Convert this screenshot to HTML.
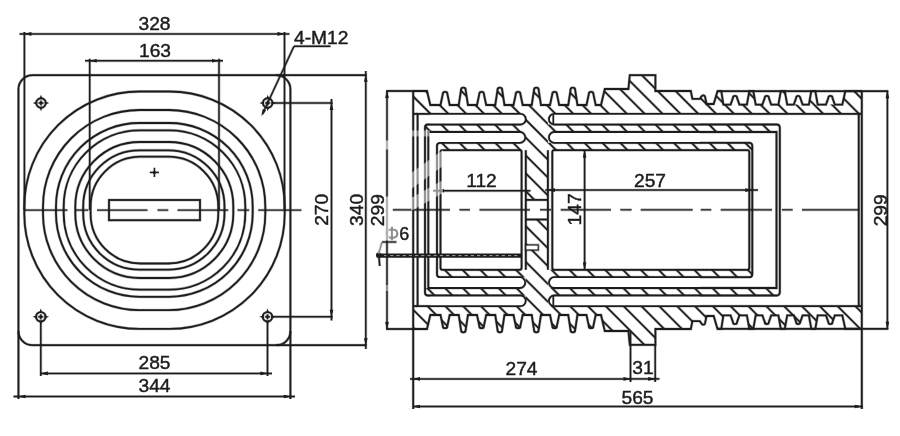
<!DOCTYPE html>
<html><head><meta charset="utf-8"><style>
html,body{margin:0;padding:0;background:#fff;}
svg{display:block;font-family:"Liberation Sans",sans-serif;will-change:transform;}
text{stroke:#1c1c1c;stroke-width:0.45px;}
.halo *{stroke-opacity:0.3;fill-opacity:0.3;}
.halo path,.halo line,.halo rect,.halo circle{stroke-width:2.9px;}
.halo text{display:none;}
</style></head><body>
<svg width="900" height="436" viewBox="0 0 900 436">
<rect width="900" height="436" fill="#fff"/>
<g class="halo">
<rect x="18.45" y="75.2" width="271.95" height="270.0" rx="14" fill="none" stroke="#1c1c1c" stroke-width="1.8"/>
<line x1="276.4" y1="75.2" x2="366.6" y2="75.2" stroke="#1c1c1c" stroke-width="1.8" />
<line x1="276.4" y1="345.2" x2="366.6" y2="345.2" stroke="#1c1c1c" stroke-width="1.8" />
<line x1="18.45" y1="331.2" x2="18.45" y2="399" stroke="#1c1c1c" stroke-width="1.8" />
<line x1="290.4" y1="331.2" x2="290.4" y2="399" stroke="#1c1c1c" stroke-width="1.8" />
<rect x="24.3" y="91.5" width="260.4" height="237.4" rx="115.1" ry="115.1" fill="none" stroke="#1c1c1c" stroke-width="1.8"/>
<rect x="43" y="110" width="222.3" height="200.1" rx="96.45" ry="96.45" fill="none" stroke="#1c1c1c" stroke-width="1.8"/>
<rect x="56" y="123" width="196.7" height="173.8" rx="83.3" ry="83.3" fill="none" stroke="#1c1c1c" stroke-width="1.8"/>
<rect x="63.7" y="130.28" width="181.6" height="159.4" rx="76.1" ry="76.1" fill="none" stroke="#1c1c1c" stroke-width="1.8"/>
<rect x="75.3" y="142" width="158" height="136" rx="64.4" ry="64.4" fill="none" stroke="#1c1c1c" stroke-width="1.8"/>
<rect x="83.2" y="150.3" width="141.3" height="119.4" rx="56.1" ry="56.1" fill="none" stroke="#1c1c1c" stroke-width="1.8"/>
<rect x="90.6" y="156.7" width="127.7" height="106.8" rx="49.8" ry="49.8" fill="none" stroke="#1c1c1c" stroke-width="1.8"/>
<rect x="109" y="200" width="91" height="20.2" fill="none" stroke="#1c1c1c" stroke-width="1.8"/>
<line x1="149.8" y1="172.4" x2="159" y2="172.4" stroke="#1c1c1c" stroke-width="1.1" />
<line x1="154.4" y1="167.8" x2="154.4" y2="177" stroke="#1c1c1c" stroke-width="1.1" />
<circle cx="154.4" cy="172.4" r="1.5" fill="#1c1c1c"/>
<circle cx="41" cy="103" r="4.7" fill="none" stroke="#1c1c1c" stroke-width="1.9"/>
<path d="M45,103 L45,104.4 L49.2,103 L45,101.6 Z" fill="#1c1c1c"/>
<path d="M37,103 L37,101.6 L32.8,103 L37,104.4 Z" fill="#1c1c1c"/>
<path d="M41,107 L39.6,107 L41,111.2 L42.4,107 Z" fill="#1c1c1c"/>
<path d="M41,99 L42.4,99 L41,94.8 L39.6,99 Z" fill="#1c1c1c"/>
<circle cx="41" cy="103" r="1.3" fill="#1c1c1c"/>
<line x1="38.4" y1="103" x2="43.6" y2="103" stroke="#1c1c1c" stroke-width="1.3" />
<line x1="41" y1="100.4" x2="41" y2="105.6" stroke="#1c1c1c" stroke-width="1.3" />
<circle cx="267.7" cy="103" r="4.7" fill="none" stroke="#1c1c1c" stroke-width="1.9"/>
<path d="M271.7,103 L271.7,104.4 L275.9,103 L271.7,101.6 Z" fill="#1c1c1c"/>
<path d="M263.7,103 L263.7,101.6 L259.5,103 L263.7,104.4 Z" fill="#1c1c1c"/>
<path d="M267.7,107 L266.3,107 L267.7,111.2 L269.1,107 Z" fill="#1c1c1c"/>
<path d="M267.7,99 L269.1,99 L267.7,94.8 L266.3,99 Z" fill="#1c1c1c"/>
<circle cx="267.7" cy="103" r="1.3" fill="#1c1c1c"/>
<line x1="265.1" y1="103" x2="270.3" y2="103" stroke="#1c1c1c" stroke-width="1.3" />
<line x1="267.7" y1="100.4" x2="267.7" y2="105.6" stroke="#1c1c1c" stroke-width="1.3" />
<circle cx="40.8" cy="316.8" r="4.7" fill="none" stroke="#1c1c1c" stroke-width="1.9"/>
<path d="M44.8,316.8 L44.8,318.2 L49,316.8 L44.8,315.4 Z" fill="#1c1c1c"/>
<path d="M36.8,316.8 L36.8,315.4 L32.6,316.8 L36.8,318.2 Z" fill="#1c1c1c"/>
<path d="M40.8,320.8 L39.4,320.8 L40.8,325 L42.2,320.8 Z" fill="#1c1c1c"/>
<path d="M40.8,312.8 L42.2,312.8 L40.8,308.6 L39.4,312.8 Z" fill="#1c1c1c"/>
<circle cx="40.8" cy="316.8" r="1.3" fill="#1c1c1c"/>
<line x1="38.2" y1="316.8" x2="43.4" y2="316.8" stroke="#1c1c1c" stroke-width="1.3" />
<line x1="40.8" y1="314.2" x2="40.8" y2="319.4" stroke="#1c1c1c" stroke-width="1.3" />
<circle cx="267.5" cy="316.8" r="4.7" fill="none" stroke="#1c1c1c" stroke-width="1.9"/>
<path d="M271.5,316.8 L271.5,318.2 L275.7,316.8 L271.5,315.4 Z" fill="#1c1c1c"/>
<path d="M263.5,316.8 L263.5,315.4 L259.3,316.8 L263.5,318.2 Z" fill="#1c1c1c"/>
<path d="M267.5,320.8 L266.1,320.8 L267.5,325 L268.9,320.8 Z" fill="#1c1c1c"/>
<path d="M267.5,312.8 L268.9,312.8 L267.5,308.6 L266.1,312.8 Z" fill="#1c1c1c"/>
<circle cx="267.5" cy="316.8" r="1.3" fill="#1c1c1c"/>
<line x1="264.9" y1="316.8" x2="270.1" y2="316.8" stroke="#1c1c1c" stroke-width="1.3" />
<line x1="267.5" y1="314.2" x2="267.5" y2="319.4" stroke="#1c1c1c" stroke-width="1.3" />
<line x1="24.2" y1="210.1" x2="67.5" y2="210.1" stroke="#1c1c1c" stroke-width="1.2" />
<line x1="75" y1="210.1" x2="88.3" y2="210.1" stroke="#1c1c1c" stroke-width="1.2" />
<line x1="97" y1="210.1" x2="147.5" y2="210.1" stroke="#1c1c1c" stroke-width="1.2" />
<line x1="157.5" y1="210.1" x2="168.3" y2="210.1" stroke="#1c1c1c" stroke-width="1.2" />
<line x1="177.5" y1="210.1" x2="228.3" y2="210.1" stroke="#1c1c1c" stroke-width="1.2" />
<line x1="237.5" y1="210.1" x2="249.2" y2="210.1" stroke="#1c1c1c" stroke-width="1.2" />
<line x1="258.3" y1="210.1" x2="301.4" y2="210.1" stroke="#1c1c1c" stroke-width="1.2" />
<line x1="19.5" y1="33.9" x2="289.5" y2="33.9" stroke="#1c1c1c" stroke-width="1.5" />
<line x1="24.4" y1="32" x2="24.4" y2="210" stroke="#1c1c1c" stroke-width="1.5" />
<line x1="284.5" y1="32" x2="284.5" y2="210" stroke="#1c1c1c" stroke-width="1.5" />
<path d="M24.4,33.9 L31.4,32.1 L31.4,35.7 Z" fill="#1c1c1c"/>
<path d="M284.5,33.9 L277.5,35.7 L277.5,32.1 Z" fill="#1c1c1c"/>
<text x="154.5" y="29.6" font-size="19.2" text-anchor="middle" fill="#1c1c1c" >328</text>
<line x1="85" y1="60.8" x2="223" y2="60.8" stroke="#1c1c1c" stroke-width="1.5" />
<line x1="89.7" y1="58.8" x2="89.7" y2="210" stroke="#1c1c1c" stroke-width="1.5" />
<line x1="219" y1="58.8" x2="219" y2="210" stroke="#1c1c1c" stroke-width="1.5" />
<path d="M89.7,60.8 L96.7,59 L96.7,62.6 Z" fill="#1c1c1c"/>
<path d="M219,60.8 L212,62.6 L212,59 Z" fill="#1c1c1c"/>
<text x="155" y="56.6" font-size="19.2" text-anchor="middle" fill="#1c1c1c" >163</text>
<text x="294" y="44.3" font-size="19.2" text-anchor="start" fill="#1c1c1c" >4-M12</text>
<line x1="294" y1="46.2" x2="330.5" y2="46.2" stroke="#1c1c1c" stroke-width="1.5" />
<line x1="294" y1="46.2" x2="262.5" y2="114" stroke="#1c1c1c" stroke-width="1.5" />
<path d="M261.5,116 L262.8,108.89 L266.07,110.4 Z" fill="#1c1c1c"/>
<line x1="272" y1="103" x2="332.6" y2="103" stroke="#1c1c1c" stroke-width="1.5" />
<line x1="272" y1="316.8" x2="332.6" y2="316.8" stroke="#1c1c1c" stroke-width="1.5" />
<line x1="331.5" y1="99" x2="331.5" y2="320.5" stroke="#1c1c1c" stroke-width="1.5" />
<path d="M331.5,103 L333.3,110 L329.7,110 Z" fill="#1c1c1c"/>
<path d="M331.5,316.8 L329.7,309.8 L333.3,309.8 Z" fill="#1c1c1c"/>
<text x="328.3" y="209.8" font-size="19.2" text-anchor="middle" fill="#1c1c1c" transform="rotate(-90 328.3 209.8)" >270</text>
<line x1="365.8" y1="71" x2="365.8" y2="349" stroke="#1c1c1c" stroke-width="1.5" />
<path d="M365.8,74.8 L367.6,81.8 L364,81.8 Z" fill="#1c1c1c"/>
<path d="M365.8,345.2 L364,338.2 L367.6,338.2 Z" fill="#1c1c1c"/>
<text x="362.8" y="209.9" font-size="19.2" text-anchor="middle" fill="#1c1c1c" transform="rotate(-90 362.8 209.9)" >340</text>
<line x1="40.8" y1="322" x2="40.8" y2="376" stroke="#1c1c1c" stroke-width="1.5" />
<line x1="267.5" y1="322" x2="267.5" y2="376" stroke="#1c1c1c" stroke-width="1.5" />
<line x1="40.8" y1="373.4" x2="272" y2="373.4" stroke="#1c1c1c" stroke-width="1.5" />
<path d="M40.8,373.4 L47.8,371.6 L47.8,375.2 Z" fill="#1c1c1c"/>
<path d="M267.5,373.4 L260.5,375.2 L260.5,371.6 Z" fill="#1c1c1c"/>
<text x="154.5" y="368.9" font-size="19.2" text-anchor="middle" fill="#1c1c1c" >285</text>
<line x1="13.5" y1="396.5" x2="295" y2="396.5" stroke="#1c1c1c" stroke-width="1.5" />
<path d="M18.4,396.5 L25.4,394.7 L25.4,398.3 Z" fill="#1c1c1c"/>
<path d="M290.8,396.5 L283.8,398.3 L283.8,394.7 Z" fill="#1c1c1c"/>
<text x="154.5" y="392.3" font-size="19.2" text-anchor="middle" fill="#1c1c1c" >344</text>
<clipPath id="hcT"><path d="M413,91 L427,91 L430.3,105 L458.75,105 L461.05,89.9 A2.3,2.3 0 0 1 465.65,89.9 L467.95,105 L495.25,105 L497.55,89.9 A2.3,2.3 0 0 1 502.15,89.9 L504.45,105 L531.75,105 L534.05,89.9 A2.3,2.3 0 0 1 538.65,89.9 L540.95,105 L568.25,105 L570.55,89.9 A2.3,2.3 0 0 1 575.15,89.9 L577.45,105 L601,105 L604.8,89 L628.4,89 L629.8,75.2 L655.4,75.2 L655.4,91 L690.8,91 L692.4,98.9 L699.8,98.9 L701.6,96.4 A1.8,1.8 0 0 1 705,96.6 L706.6,104 L713.7,104 L717.5,91.2 L721.3,91.2 L723.4,104.6 L746.9,104.6 L749.3,91.2 L753.3,91.2 L755.7,104.6 L778.4,104.6 L780.8,91.2 L784.8,91.2 L787.2,104.6 L808.9,104.6 L811.3,91.2 L815.3,91.2 L817.7,104.6 L842.3,104.6 L845.3,91.2 L861.8,91.2 L861.8,113.9 L413,113.9 Z"/><path d="M425,124.5 L779.8,124.5 L779.8,132 L425,132 Z"/><path d="M437,142.8 L752.3,142.8 L752.3,150.2 L437,150.2 Z"/><path d="M525.8,113.9 L547.9,113.9 L547.9,199.9 L525.8,199.9 Z"/></clipPath>
<path clip-path="url(#hcT)" d="M351.05,70 L482.05,201 M368.9,70 L499.9,201 M386.75,70 L517.75,201 M404.6,70 L535.6,201 M422.45,70 L553.45,201 M440.3,70 L571.3,201 M458.15,70 L589.15,201 M476,70 L607,201 M493.85,70 L624.85,201 M511.7,70 L642.7,201 M529.55,70 L660.55,201 M547.4,70 L678.4,201 M565.25,70 L696.25,201 M583.1,70 L714.1,201 M600.95,70 L731.95,201 M618.8,70 L749.8,201 M636.65,70 L767.65,201 M654.5,70 L785.5,201 M672.35,70 L803.35,201 M690.2,70 L821.2,201 M708.05,70 L839.05,201 M725.9,70 L856.9,201 M743.75,70 L874.75,201 M761.6,70 L892.6,201 M779.45,70 L910.45,201 M797.3,70 L928.3,201 M815.15,70 L946.15,201 M833,70 L964,201 " stroke="#1c1c1c" stroke-width="1.6" fill="none"/>
<clipPath id="hcB"><path d="M413,329 L427,329 L430.3,315 L440.5,315 L442.8,325.9 A2.3,2.3 0 0 0 447.4,325.9 L449.7,315 L458.75,315 L461.05,330.1 A2.3,2.3 0 0 0 465.65,330.1 L467.95,315 L477,315 L479.3,325.9 A2.3,2.3 0 0 0 483.9,325.9 L486.2,315 L495.25,315 L497.55,330.1 A2.3,2.3 0 0 0 502.15,330.1 L504.45,315 L513.5,315 L515.8,325.9 A2.3,2.3 0 0 0 520.4,325.9 L522.7,315 L531.75,315 L534.05,330.1 A2.3,2.3 0 0 0 538.65,330.1 L540.95,315 L550,315 L552.3,325.9 A2.3,2.3 0 0 0 556.9,325.9 L559.2,315 L568.25,315 L570.55,330.1 A2.3,2.3 0 0 0 575.15,330.1 L577.45,315 L586.5,315 L588.8,325.9 A2.3,2.3 0 0 0 593.4,325.9 L595.7,315 L601,315 L604.8,331 L628.4,331 L629.8,344.8 L655.4,344.8 L655.4,329 L690.8,329 L692.4,321.1 L699.8,321.1 L701.6,323.6 A1.8,1.8 0 0 0 705,323.4 L706.6,316 L713.7,316 L717.5,328.8 L721.3,328.8 L723.4,315.4 L730.6,315.4 L732.9,322 A2.1,2.1 0 0 0 737.1,322 L739.4,315.4 L746.9,315.4 L749.3,328.8 L753.3,328.8 L755.7,315.4 L762.4,315.4 L764.7,322 A2.1,2.1 0 0 0 768.9,322 L771.2,315.4 L778.4,315.4 L780.8,328.8 L784.8,328.8 L787.2,315.4 L793.8,315.4 L796.1,322 A2.1,2.1 0 0 0 800.3,322 L802.6,315.4 L808.9,315.4 L811.3,328.8 L815.3,328.8 L817.7,315.4 L826,315.4 L828.3,322 A2.1,2.1 0 0 0 832.5,322 L834.8,315.4 L842.3,315.4 L845.3,328.8 L861.8,328.8 L861.8,306.1 L413,306.1 Z"/><path d="M425,288 L779.8,288 L779.8,295.5 L425,295.5 Z"/><path d="M437,269.8 L752.3,269.8 L752.3,277.2 L437,277.2 Z"/><path d="M525.8,219.5 L547.9,219.5 L547.9,306.1 L525.8,306.1 Z"/></clipPath>
<path clip-path="url(#hcB)" d="M304.64,219 L435.64,350 M322.47,219 L453.47,350 M340.3,219 L471.3,350 M358.13,219 L489.13,350 M375.96,219 L506.96,350 M393.79,219 L524.79,350 M411.62,219 L542.62,350 M429.45,219 L560.45,350 M447.28,219 L578.28,350 M465.11,219 L596.11,350 M482.94,219 L613.94,350 M500.77,219 L631.77,350 M518.6,219 L649.6,350 M536.43,219 L667.43,350 M554.26,219 L685.26,350 M572.09,219 L703.09,350 M589.92,219 L720.92,350 M607.75,219 L738.75,350 M625.58,219 L756.58,350 M643.41,219 L774.41,350 M661.24,219 L792.24,350 M679.07,219 L810.07,350 M696.9,219 L827.9,350 M714.73,219 L845.73,350 M732.56,219 L863.56,350 M750.39,219 L881.39,350 M768.22,219 L899.22,350 M786.05,219 L917.05,350 " stroke="#1c1c1c" stroke-width="1.6" fill="none"/>
<g fill="#fff" stroke="none"><path d="M430,113.9 L520.4,113.9 A5.3,5.3 0 0 1 520.4,124.5 L430,124.5 Z"/><path d="M430,295.5 L520.4,295.5 A5.3,5.3 0 0 1 520.4,306.1 L430,306.1 Z"/><path d="M700,113.9 L554.3,113.9 A5.3,5.3 0 0 0 554.3,124.5 L700,124.5 Z"/><path d="M700,295.5 L554.3,295.5 A5.3,5.3 0 0 0 554.3,306.1 L700,306.1 Z"/><path d="M430,132 L519.8,132 A5.4,5.4 0 0 1 519.8,142.8 L430,142.8 Z"/><path d="M430,277.2 L519.8,277.2 A5.4,5.4 0 0 1 519.8,288 L430,288 Z"/><path d="M700,132 L554.4,132 A5.4,5.4 0 0 0 554.4,142.8 L700,142.8 Z"/><path d="M700,277.2 L554.4,277.2 A5.4,5.4 0 0 0 554.4,288 L700,288 Z"/></g>
<path d="M413,91 L427,91 L430.3,105 L440.5,105 L442.8,94.1 A2.3,2.3 0 0 1 447.4,94.1 L449.7,105 L458.75,105 L461.05,89.9 A2.3,2.3 0 0 1 465.65,89.9 L467.95,105 L477,105 L479.3,94.1 A2.3,2.3 0 0 1 483.9,94.1 L486.2,105 L495.25,105 L497.55,89.9 A2.3,2.3 0 0 1 502.15,89.9 L504.45,105 L513.5,105 L515.8,94.1 A2.3,2.3 0 0 1 520.4,94.1 L522.7,105 L531.75,105 L534.05,89.9 A2.3,2.3 0 0 1 538.65,89.9 L540.95,105 L550,105 L552.3,94.1 A2.3,2.3 0 0 1 556.9,94.1 L559.2,105 L568.25,105 L570.55,89.9 A2.3,2.3 0 0 1 575.15,89.9 L577.45,105 L586.5,105 L588.8,94.1 A2.3,2.3 0 0 1 593.4,94.1 L595.7,105 L601,105 L604.8,89 L628.4,89 L629.8,75.2 L655.4,75.2 L655.4,91 L690.8,91 L692.4,98.9 L699.8,98.9 L701.6,96.4 A1.8,1.8 0 0 1 705,96.6 L706.6,104 L713.7,104 L717.5,91.2 L721.3,91.2 L723.4,104.6 L730.6,104.6 L732.9,98 A2.1,2.1 0 0 1 737.1,98 L739.4,104.6 L746.9,104.6 L749.3,91.2 L753.3,91.2 L755.7,104.6 L762.4,104.6 L764.7,98 A2.1,2.1 0 0 1 768.9,98 L771.2,104.6 L778.4,104.6 L780.8,91.2 L784.8,91.2 L787.2,104.6 L793.8,104.6 L796.1,98 A2.1,2.1 0 0 1 800.3,98 L802.6,104.6 L808.9,104.6 L811.3,91.2 L815.3,91.2 L817.7,104.6 L826,104.6 L828.3,98 A2.1,2.1 0 0 1 832.5,98 L834.8,104.6 L842.3,104.6 L845.3,91.2 L861.8,91.2" fill="none" stroke="#1c1c1c" stroke-width="1.8" />
<path d="M413,329 L427,329 L430.3,315 L440.5,315 L442.8,325.9 A2.3,2.3 0 0 0 447.4,325.9 L449.7,315 L458.75,315 L461.05,330.1 A2.3,2.3 0 0 0 465.65,330.1 L467.95,315 L477,315 L479.3,325.9 A2.3,2.3 0 0 0 483.9,325.9 L486.2,315 L495.25,315 L497.55,330.1 A2.3,2.3 0 0 0 502.15,330.1 L504.45,315 L513.5,315 L515.8,325.9 A2.3,2.3 0 0 0 520.4,325.9 L522.7,315 L531.75,315 L534.05,330.1 A2.3,2.3 0 0 0 538.65,330.1 L540.95,315 L550,315 L552.3,325.9 A2.3,2.3 0 0 0 556.9,325.9 L559.2,315 L568.25,315 L570.55,330.1 A2.3,2.3 0 0 0 575.15,330.1 L577.45,315 L586.5,315 L588.8,325.9 A2.3,2.3 0 0 0 593.4,325.9 L595.7,315 L601,315 L604.8,331 L628.4,331 L629.8,344.8 L655.4,344.8 L655.4,329 L690.8,329 L692.4,321.1 L699.8,321.1 L701.6,323.6 A1.8,1.8 0 0 0 705,323.4 L706.6,316 L713.7,316 L717.5,328.8 L721.3,328.8 L723.4,315.4 L730.6,315.4 L732.9,322 A2.1,2.1 0 0 0 737.1,322 L739.4,315.4 L746.9,315.4 L749.3,328.8 L753.3,328.8 L755.7,315.4 L762.4,315.4 L764.7,322 A2.1,2.1 0 0 0 768.9,322 L771.2,315.4 L778.4,315.4 L780.8,328.8 L784.8,328.8 L787.2,315.4 L793.8,315.4 L796.1,322 A2.1,2.1 0 0 0 800.3,322 L802.6,315.4 L808.9,315.4 L811.3,328.8 L815.3,328.8 L817.7,315.4 L826,315.4 L828.3,322 A2.1,2.1 0 0 0 832.5,322 L834.8,315.4 L842.3,315.4 L845.3,328.8 L861.8,328.8" fill="none" stroke="#1c1c1c" stroke-width="1.8" />
<line x1="861.8" y1="91.2" x2="861.8" y2="328.8" stroke="#1c1c1c" stroke-width="1.8" />
<line x1="717.5" y1="91.2" x2="888.3" y2="91.2" stroke="#1c1c1c" stroke-width="1.8" />
<line x1="717.5" y1="328.8" x2="888.3" y2="328.8" stroke="#1c1c1c" stroke-width="1.8" />
<line x1="413.2" y1="91" x2="413.2" y2="409" stroke="#1c1c1c" stroke-width="1.8" />
<line x1="861.8" y1="328.8" x2="861.8" y2="409" stroke="#1c1c1c" stroke-width="1.8" />
<line x1="386.1" y1="91" x2="413" y2="91" stroke="#1c1c1c" stroke-width="1.8" />
<line x1="386.1" y1="329" x2="413" y2="329" stroke="#1c1c1c" stroke-width="1.8" />
<line x1="413.2" y1="113.9" x2="417.6" y2="113.9" stroke="#1c1c1c" stroke-width="1.8" />
<line x1="413.2" y1="306.1" x2="417.6" y2="306.1" stroke="#1c1c1c" stroke-width="1.8" />
<line x1="858.75" y1="113.9" x2="861.8" y2="113.9" stroke="#1c1c1c" stroke-width="1.8" />
<line x1="858.75" y1="306.1" x2="861.8" y2="306.1" stroke="#1c1c1c" stroke-width="1.8" />
<path d="M417.6,210 L417.6,113.9 L520.4,113.9 A5.3,5.3 0 0 1 520.4,124.5 L428,124.5 A3,3 0 0 0 425,127.5 L425,210" fill="none" stroke="#1c1c1c" stroke-width="1.8" />
<path d="M428.3,210 L428.3,132 L519.8,132 A5.4,5.4 0 0 1 519.8,142.8 L440,142.8 A3,3 0 0 0 437,145.8 L437,210" fill="none" stroke="#1c1c1c" stroke-width="1.8" />
<path d="M440.5,210 L440.5,152.2 A2,2 0 0 1 442.5,150.2 L519.6,150.2 A2,2 0 0 1 521.6,152.2 L521.6,210" fill="none" stroke="#1c1c1c" stroke-width="1.8" />
<line x1="525.8" y1="150.2" x2="525.8" y2="210" stroke="#1c1c1c" stroke-width="1.8" />
<path d="M858.75,210 L858.75,113.9 L554.3,113.9 A5.3,5.3 0 0 0 554.3,124.5 L776.8,124.5 A3,3 0 0 1 779.8,127.5 L779.8,210" fill="none" stroke="#1c1c1c" stroke-width="1.8" />
<path d="M776.5,210 L776.5,132 L554.4,132 A5.4,5.4 0 0 0 554.4,142.8 L749.3,142.8 A3,3 0 0 1 752.3,145.8 L752.3,210" fill="none" stroke="#1c1c1c" stroke-width="1.8" />
<path d="M552.3,210 L552.3,152.2 A2,2 0 0 1 554.3,150.2 L747.3,150.2 A2,2 0 0 1 749.3,152.2 L749.3,210" fill="none" stroke="#1c1c1c" stroke-width="1.8" />
<line x1="547.9" y1="150.2" x2="547.9" y2="210" stroke="#1c1c1c" stroke-width="1.8" />
<line x1="553.3" y1="114.9" x2="553.3" y2="124" stroke="#1c1c1c" stroke-width="1.8" />
<path d="M417.6,210 L417.6,306.1 L520.4,306.1 A5.3,5.3 0 0 0 520.4,295.5 L428,295.5 A3,3 0 0 1 425,292.5 L425,210" fill="none" stroke="#1c1c1c" stroke-width="1.8" />
<path d="M428.3,210 L428.3,288 L519.8,288 A5.4,5.4 0 0 0 519.8,277.2 L440,277.2 A3,3 0 0 1 437,274.2 L437,210" fill="none" stroke="#1c1c1c" stroke-width="1.8" />
<path d="M440.5,210 L440.5,267.8 A2,2 0 0 0 442.5,269.8 L519.6,269.8 A2,2 0 0 0 521.6,267.8 L521.6,210" fill="none" stroke="#1c1c1c" stroke-width="1.8" />
<line x1="525.8" y1="269.8" x2="525.8" y2="210" stroke="#1c1c1c" stroke-width="1.8" />
<path d="M858.75,210 L858.75,306.1 L554.3,306.1 A5.3,5.3 0 0 1 554.3,295.5 L776.8,295.5 A3,3 0 0 0 779.8,292.5 L779.8,210" fill="none" stroke="#1c1c1c" stroke-width="1.8" />
<path d="M776.5,210 L776.5,288 L554.4,288 A5.4,5.4 0 0 1 554.4,277.2 L749.3,277.2 A3,3 0 0 0 752.3,274.2 L752.3,210" fill="none" stroke="#1c1c1c" stroke-width="1.8" />
<path d="M552.3,210 L552.3,267.8 A2,2 0 0 0 554.3,269.8 L747.3,269.8 A2,2 0 0 0 749.3,267.8 L749.3,210" fill="none" stroke="#1c1c1c" stroke-width="1.8" />
<line x1="547.9" y1="269.8" x2="547.9" y2="210" stroke="#1c1c1c" stroke-width="1.8" />
<line x1="553.3" y1="305.1" x2="553.3" y2="296" stroke="#1c1c1c" stroke-width="1.8" />
<line x1="525.8" y1="199.9" x2="547.9" y2="199.9" stroke="#1c1c1c" stroke-width="1.8" />
<line x1="525.8" y1="219.5" x2="547.9" y2="219.5" stroke="#1c1c1c" stroke-width="1.8" />
<rect x="525.8" y="245" width="12.4" height="5" fill="#fff" stroke="#1c1c1c" stroke-width="1.2"/>
<line x1="379" y1="255.6" x2="521" y2="255.6" stroke="#1c1c1c" stroke-width="4.2"/>
<line x1="384" y1="255.6" x2="519" y2="255.6" stroke="#a0a0a0" stroke-width="1" stroke-dasharray="3.2 3"/>
<circle cx="378.6" cy="255.2" r="2.6" fill="#1c1c1c"/>
<line x1="379" y1="257" x2="379.7" y2="266" stroke="#1c1c1c" stroke-width="1.6" />
<line x1="382" y1="242" x2="396.5" y2="242" stroke="#1c1c1c" stroke-width="1.3" />
<line x1="382" y1="242" x2="378.6" y2="254" stroke="#8a8a8a" stroke-width="1.3" />
<text x="397" y="239.6" font-size="18" text-anchor="middle" fill="#1c1c1c" ><tspan fill="#8a8a8a" stroke="#8a8a8a">Φ</tspan>6</text>
<line x1="392.8" y1="209.8" x2="450" y2="209.8" stroke="#1c1c1c" stroke-width="1.2" />
<line x1="459.4" y1="209.8" x2="470" y2="209.8" stroke="#1c1c1c" stroke-width="1.2" />
<line x1="479.5" y1="209.8" x2="530" y2="209.8" stroke="#1c1c1c" stroke-width="1.2" />
<line x1="540" y1="209.8" x2="551" y2="209.8" stroke="#1c1c1c" stroke-width="1.2" />
<line x1="560.7" y1="209.8" x2="611" y2="209.8" stroke="#1c1c1c" stroke-width="1.2" />
<line x1="620.3" y1="209.8" x2="631.6" y2="209.8" stroke="#1c1c1c" stroke-width="1.2" />
<line x1="640.7" y1="209.8" x2="692.7" y2="209.8" stroke="#1c1c1c" stroke-width="1.2" />
<line x1="700.7" y1="209.8" x2="711.3" y2="209.8" stroke="#1c1c1c" stroke-width="1.2" />
<line x1="720.7" y1="209.8" x2="772" y2="209.8" stroke="#1c1c1c" stroke-width="1.2" />
<line x1="782" y1="209.8" x2="792.7" y2="209.8" stroke="#1c1c1c" stroke-width="1.2" />
<line x1="802" y1="209.8" x2="859.3" y2="209.8" stroke="#1c1c1c" stroke-width="1.2" />
<line x1="387" y1="91" x2="387" y2="329" stroke="#1c1c1c" stroke-width="1.5" />
<path d="M387,91 L388.8,98 L385.2,98 Z" fill="#1c1c1c"/>
<path d="M387,329 L385.2,322 L388.8,322 Z" fill="#1c1c1c"/>
<text x="384" y="210.2" font-size="19.2" text-anchor="middle" fill="#1c1c1c" transform="rotate(-90 384 210.2)" >299</text>
<line x1="887.4" y1="91.2" x2="887.4" y2="328.8" stroke="#1c1c1c" stroke-width="1.5" />
<path d="M887.4,91.2 L889.2,98.2 L885.6,98.2 Z" fill="#1c1c1c"/>
<path d="M887.4,328.8 L885.6,321.8 L889.2,321.8 Z" fill="#1c1c1c"/>
<text x="886.7" y="210.3" font-size="19.2" text-anchor="middle" fill="#1c1c1c" transform="rotate(-90 886.7 210.3)" >299</text>
<line x1="433" y1="190.8" x2="530.5" y2="190.8" stroke="#1c1c1c" stroke-width="1.5" />
<path d="M437,190.8 L444,189 L444,192.6 Z" fill="#1c1c1c"/>
<text x="481.5" y="187.3" font-size="19.2" text-anchor="middle" fill="#1c1c1c" >112</text>
<line x1="545.3" y1="190.1" x2="758" y2="190.1" stroke="#1c1c1c" stroke-width="1.5" />
<path d="M547.9,190.1 L554.9,188.3 L554.9,191.9 Z" fill="#1c1c1c"/>
<path d="M752.3,190.1 L745.3,191.9 L745.3,188.3 Z" fill="#1c1c1c"/>
<text x="650" y="187.2" font-size="19.2" text-anchor="middle" fill="#1c1c1c" >257</text>
<line x1="584.6" y1="150.5" x2="584.6" y2="269.5" stroke="#1c1c1c" stroke-width="1.5" />
<path d="M584.6,150.5 L586.4,157.5 L582.8,157.5 Z" fill="#1c1c1c"/>
<path d="M584.6,269.5 L582.8,262.5 L586.4,262.5 Z" fill="#1c1c1c"/>
<text x="580.6" y="209.4" font-size="19.2" text-anchor="middle" fill="#1c1c1c" transform="rotate(-90 580.6 209.4)" >147</text>
<line x1="630.5" y1="331" x2="630.5" y2="382" stroke="#1c1c1c" stroke-width="1.5" />
<line x1="655.2" y1="344.8" x2="655.2" y2="382" stroke="#1c1c1c" stroke-width="1.5" />
<line x1="410" y1="378.9" x2="631" y2="378.9" stroke="#1c1c1c" stroke-width="1.5" />
<path d="M413,378.9 L420,377.1 L420,380.7 Z" fill="#1c1c1c"/>
<path d="M630.5,378.9 L623.5,380.7 L623.5,377.1 Z" fill="#1c1c1c"/>
<line x1="631" y1="378.9" x2="659.5" y2="378.9" stroke="#1c1c1c" stroke-width="1.5" />
<path d="M655.2,378.9 L648.2,380.7 L648.2,377.1 Z" fill="#1c1c1c"/>
<text x="521.5" y="374.8" font-size="19.2" text-anchor="middle" fill="#1c1c1c" >274</text>
<text x="643" y="374.3" font-size="19.2" text-anchor="middle" fill="#1c1c1c" >31</text>
<line x1="413.2" y1="406.5" x2="863" y2="406.5" stroke="#1c1c1c" stroke-width="1.5" />
<path d="M413,406.5 L420,404.7 L420,408.3 Z" fill="#1c1c1c"/>
<path d="M861.8,406.5 L854.8,408.3 L854.8,404.7 Z" fill="#1c1c1c"/>
<text x="637.5" y="404.3" font-size="19.2" text-anchor="middle" fill="#1c1c1c" >565</text>
</g>
<rect x="18.45" y="75.2" width="271.95" height="270.0" rx="14" fill="none" stroke="#1c1c1c" stroke-width="1.8"/>
<line x1="276.4" y1="75.2" x2="366.6" y2="75.2" stroke="#1c1c1c" stroke-width="1.8" />
<line x1="276.4" y1="345.2" x2="366.6" y2="345.2" stroke="#1c1c1c" stroke-width="1.8" />
<line x1="18.45" y1="331.2" x2="18.45" y2="399" stroke="#1c1c1c" stroke-width="1.8" />
<line x1="290.4" y1="331.2" x2="290.4" y2="399" stroke="#1c1c1c" stroke-width="1.8" />
<rect x="24.3" y="91.5" width="260.4" height="237.4" rx="115.1" ry="115.1" fill="none" stroke="#1c1c1c" stroke-width="1.8"/>
<rect x="43" y="110" width="222.3" height="200.1" rx="96.45" ry="96.45" fill="none" stroke="#1c1c1c" stroke-width="1.8"/>
<rect x="56" y="123" width="196.7" height="173.8" rx="83.3" ry="83.3" fill="none" stroke="#1c1c1c" stroke-width="1.8"/>
<rect x="63.7" y="130.28" width="181.6" height="159.4" rx="76.1" ry="76.1" fill="none" stroke="#1c1c1c" stroke-width="1.8"/>
<rect x="75.3" y="142" width="158" height="136" rx="64.4" ry="64.4" fill="none" stroke="#1c1c1c" stroke-width="1.8"/>
<rect x="83.2" y="150.3" width="141.3" height="119.4" rx="56.1" ry="56.1" fill="none" stroke="#1c1c1c" stroke-width="1.8"/>
<rect x="90.6" y="156.7" width="127.7" height="106.8" rx="49.8" ry="49.8" fill="none" stroke="#1c1c1c" stroke-width="1.8"/>
<rect x="109" y="200" width="91" height="20.2" fill="none" stroke="#1c1c1c" stroke-width="1.8"/>
<line x1="149.8" y1="172.4" x2="159" y2="172.4" stroke="#1c1c1c" stroke-width="1.1" />
<line x1="154.4" y1="167.8" x2="154.4" y2="177" stroke="#1c1c1c" stroke-width="1.1" />
<circle cx="154.4" cy="172.4" r="1.5" fill="#1c1c1c"/>
<circle cx="41" cy="103" r="4.7" fill="none" stroke="#1c1c1c" stroke-width="1.9"/>
<path d="M45,103 L45,104.4 L49.2,103 L45,101.6 Z" fill="#1c1c1c"/>
<path d="M37,103 L37,101.6 L32.8,103 L37,104.4 Z" fill="#1c1c1c"/>
<path d="M41,107 L39.6,107 L41,111.2 L42.4,107 Z" fill="#1c1c1c"/>
<path d="M41,99 L42.4,99 L41,94.8 L39.6,99 Z" fill="#1c1c1c"/>
<circle cx="41" cy="103" r="1.3" fill="#1c1c1c"/>
<line x1="38.4" y1="103" x2="43.6" y2="103" stroke="#1c1c1c" stroke-width="1.3" />
<line x1="41" y1="100.4" x2="41" y2="105.6" stroke="#1c1c1c" stroke-width="1.3" />
<circle cx="267.7" cy="103" r="4.7" fill="none" stroke="#1c1c1c" stroke-width="1.9"/>
<path d="M271.7,103 L271.7,104.4 L275.9,103 L271.7,101.6 Z" fill="#1c1c1c"/>
<path d="M263.7,103 L263.7,101.6 L259.5,103 L263.7,104.4 Z" fill="#1c1c1c"/>
<path d="M267.7,107 L266.3,107 L267.7,111.2 L269.1,107 Z" fill="#1c1c1c"/>
<path d="M267.7,99 L269.1,99 L267.7,94.8 L266.3,99 Z" fill="#1c1c1c"/>
<circle cx="267.7" cy="103" r="1.3" fill="#1c1c1c"/>
<line x1="265.1" y1="103" x2="270.3" y2="103" stroke="#1c1c1c" stroke-width="1.3" />
<line x1="267.7" y1="100.4" x2="267.7" y2="105.6" stroke="#1c1c1c" stroke-width="1.3" />
<circle cx="40.8" cy="316.8" r="4.7" fill="none" stroke="#1c1c1c" stroke-width="1.9"/>
<path d="M44.8,316.8 L44.8,318.2 L49,316.8 L44.8,315.4 Z" fill="#1c1c1c"/>
<path d="M36.8,316.8 L36.8,315.4 L32.6,316.8 L36.8,318.2 Z" fill="#1c1c1c"/>
<path d="M40.8,320.8 L39.4,320.8 L40.8,325 L42.2,320.8 Z" fill="#1c1c1c"/>
<path d="M40.8,312.8 L42.2,312.8 L40.8,308.6 L39.4,312.8 Z" fill="#1c1c1c"/>
<circle cx="40.8" cy="316.8" r="1.3" fill="#1c1c1c"/>
<line x1="38.2" y1="316.8" x2="43.4" y2="316.8" stroke="#1c1c1c" stroke-width="1.3" />
<line x1="40.8" y1="314.2" x2="40.8" y2="319.4" stroke="#1c1c1c" stroke-width="1.3" />
<circle cx="267.5" cy="316.8" r="4.7" fill="none" stroke="#1c1c1c" stroke-width="1.9"/>
<path d="M271.5,316.8 L271.5,318.2 L275.7,316.8 L271.5,315.4 Z" fill="#1c1c1c"/>
<path d="M263.5,316.8 L263.5,315.4 L259.3,316.8 L263.5,318.2 Z" fill="#1c1c1c"/>
<path d="M267.5,320.8 L266.1,320.8 L267.5,325 L268.9,320.8 Z" fill="#1c1c1c"/>
<path d="M267.5,312.8 L268.9,312.8 L267.5,308.6 L266.1,312.8 Z" fill="#1c1c1c"/>
<circle cx="267.5" cy="316.8" r="1.3" fill="#1c1c1c"/>
<line x1="264.9" y1="316.8" x2="270.1" y2="316.8" stroke="#1c1c1c" stroke-width="1.3" />
<line x1="267.5" y1="314.2" x2="267.5" y2="319.4" stroke="#1c1c1c" stroke-width="1.3" />
<line x1="24.2" y1="210.1" x2="67.5" y2="210.1" stroke="#1c1c1c" stroke-width="1.2" />
<line x1="75" y1="210.1" x2="88.3" y2="210.1" stroke="#1c1c1c" stroke-width="1.2" />
<line x1="97" y1="210.1" x2="147.5" y2="210.1" stroke="#1c1c1c" stroke-width="1.2" />
<line x1="157.5" y1="210.1" x2="168.3" y2="210.1" stroke="#1c1c1c" stroke-width="1.2" />
<line x1="177.5" y1="210.1" x2="228.3" y2="210.1" stroke="#1c1c1c" stroke-width="1.2" />
<line x1="237.5" y1="210.1" x2="249.2" y2="210.1" stroke="#1c1c1c" stroke-width="1.2" />
<line x1="258.3" y1="210.1" x2="301.4" y2="210.1" stroke="#1c1c1c" stroke-width="1.2" />
<line x1="19.5" y1="33.9" x2="289.5" y2="33.9" stroke="#1c1c1c" stroke-width="1.5" />
<line x1="24.4" y1="32" x2="24.4" y2="210" stroke="#1c1c1c" stroke-width="1.5" />
<line x1="284.5" y1="32" x2="284.5" y2="210" stroke="#1c1c1c" stroke-width="1.5" />
<path d="M24.4,33.9 L31.4,32.1 L31.4,35.7 Z" fill="#1c1c1c"/>
<path d="M284.5,33.9 L277.5,35.7 L277.5,32.1 Z" fill="#1c1c1c"/>
<text x="154.5" y="29.6" font-size="19.2" text-anchor="middle" fill="#1c1c1c" >328</text>
<line x1="85" y1="60.8" x2="223" y2="60.8" stroke="#1c1c1c" stroke-width="1.5" />
<line x1="89.7" y1="58.8" x2="89.7" y2="210" stroke="#1c1c1c" stroke-width="1.5" />
<line x1="219" y1="58.8" x2="219" y2="210" stroke="#1c1c1c" stroke-width="1.5" />
<path d="M89.7,60.8 L96.7,59 L96.7,62.6 Z" fill="#1c1c1c"/>
<path d="M219,60.8 L212,62.6 L212,59 Z" fill="#1c1c1c"/>
<text x="155" y="56.6" font-size="19.2" text-anchor="middle" fill="#1c1c1c" >163</text>
<text x="294" y="44.3" font-size="19.2" text-anchor="start" fill="#1c1c1c" >4-M12</text>
<line x1="294" y1="46.2" x2="330.5" y2="46.2" stroke="#1c1c1c" stroke-width="1.5" />
<line x1="294" y1="46.2" x2="262.5" y2="114" stroke="#1c1c1c" stroke-width="1.5" />
<path d="M261.5,116 L262.8,108.89 L266.07,110.4 Z" fill="#1c1c1c"/>
<line x1="272" y1="103" x2="332.6" y2="103" stroke="#1c1c1c" stroke-width="1.5" />
<line x1="272" y1="316.8" x2="332.6" y2="316.8" stroke="#1c1c1c" stroke-width="1.5" />
<line x1="331.5" y1="99" x2="331.5" y2="320.5" stroke="#1c1c1c" stroke-width="1.5" />
<path d="M331.5,103 L333.3,110 L329.7,110 Z" fill="#1c1c1c"/>
<path d="M331.5,316.8 L329.7,309.8 L333.3,309.8 Z" fill="#1c1c1c"/>
<text x="328.3" y="209.8" font-size="19.2" text-anchor="middle" fill="#1c1c1c" transform="rotate(-90 328.3 209.8)" >270</text>
<line x1="365.8" y1="71" x2="365.8" y2="349" stroke="#1c1c1c" stroke-width="1.5" />
<path d="M365.8,74.8 L367.6,81.8 L364,81.8 Z" fill="#1c1c1c"/>
<path d="M365.8,345.2 L364,338.2 L367.6,338.2 Z" fill="#1c1c1c"/>
<text x="362.8" y="209.9" font-size="19.2" text-anchor="middle" fill="#1c1c1c" transform="rotate(-90 362.8 209.9)" >340</text>
<line x1="40.8" y1="322" x2="40.8" y2="376" stroke="#1c1c1c" stroke-width="1.5" />
<line x1="267.5" y1="322" x2="267.5" y2="376" stroke="#1c1c1c" stroke-width="1.5" />
<line x1="40.8" y1="373.4" x2="272" y2="373.4" stroke="#1c1c1c" stroke-width="1.5" />
<path d="M40.8,373.4 L47.8,371.6 L47.8,375.2 Z" fill="#1c1c1c"/>
<path d="M267.5,373.4 L260.5,375.2 L260.5,371.6 Z" fill="#1c1c1c"/>
<text x="154.5" y="368.9" font-size="19.2" text-anchor="middle" fill="#1c1c1c" >285</text>
<line x1="13.5" y1="396.5" x2="295" y2="396.5" stroke="#1c1c1c" stroke-width="1.5" />
<path d="M18.4,396.5 L25.4,394.7 L25.4,398.3 Z" fill="#1c1c1c"/>
<path d="M290.8,396.5 L283.8,398.3 L283.8,394.7 Z" fill="#1c1c1c"/>
<text x="154.5" y="392.3" font-size="19.2" text-anchor="middle" fill="#1c1c1c" >344</text>
<clipPath id="cT"><path d="M413,91 L427,91 L430.3,105 L458.75,105 L461.05,89.9 A2.3,2.3 0 0 1 465.65,89.9 L467.95,105 L495.25,105 L497.55,89.9 A2.3,2.3 0 0 1 502.15,89.9 L504.45,105 L531.75,105 L534.05,89.9 A2.3,2.3 0 0 1 538.65,89.9 L540.95,105 L568.25,105 L570.55,89.9 A2.3,2.3 0 0 1 575.15,89.9 L577.45,105 L601,105 L604.8,89 L628.4,89 L629.8,75.2 L655.4,75.2 L655.4,91 L690.8,91 L692.4,98.9 L699.8,98.9 L701.6,96.4 A1.8,1.8 0 0 1 705,96.6 L706.6,104 L713.7,104 L717.5,91.2 L721.3,91.2 L723.4,104.6 L746.9,104.6 L749.3,91.2 L753.3,91.2 L755.7,104.6 L778.4,104.6 L780.8,91.2 L784.8,91.2 L787.2,104.6 L808.9,104.6 L811.3,91.2 L815.3,91.2 L817.7,104.6 L842.3,104.6 L845.3,91.2 L861.8,91.2 L861.8,113.9 L413,113.9 Z"/><path d="M425,124.5 L779.8,124.5 L779.8,132 L425,132 Z"/><path d="M437,142.8 L752.3,142.8 L752.3,150.2 L437,150.2 Z"/><path d="M525.8,113.9 L547.9,113.9 L547.9,199.9 L525.8,199.9 Z"/></clipPath>
<path clip-path="url(#cT)" d="M351.05,70 L482.05,201 M368.9,70 L499.9,201 M386.75,70 L517.75,201 M404.6,70 L535.6,201 M422.45,70 L553.45,201 M440.3,70 L571.3,201 M458.15,70 L589.15,201 M476,70 L607,201 M493.85,70 L624.85,201 M511.7,70 L642.7,201 M529.55,70 L660.55,201 M547.4,70 L678.4,201 M565.25,70 L696.25,201 M583.1,70 L714.1,201 M600.95,70 L731.95,201 M618.8,70 L749.8,201 M636.65,70 L767.65,201 M654.5,70 L785.5,201 M672.35,70 L803.35,201 M690.2,70 L821.2,201 M708.05,70 L839.05,201 M725.9,70 L856.9,201 M743.75,70 L874.75,201 M761.6,70 L892.6,201 M779.45,70 L910.45,201 M797.3,70 L928.3,201 M815.15,70 L946.15,201 M833,70 L964,201 " stroke="#1c1c1c" stroke-width="1.6" fill="none"/>
<clipPath id="cB"><path d="M413,329 L427,329 L430.3,315 L440.5,315 L442.8,325.9 A2.3,2.3 0 0 0 447.4,325.9 L449.7,315 L458.75,315 L461.05,330.1 A2.3,2.3 0 0 0 465.65,330.1 L467.95,315 L477,315 L479.3,325.9 A2.3,2.3 0 0 0 483.9,325.9 L486.2,315 L495.25,315 L497.55,330.1 A2.3,2.3 0 0 0 502.15,330.1 L504.45,315 L513.5,315 L515.8,325.9 A2.3,2.3 0 0 0 520.4,325.9 L522.7,315 L531.75,315 L534.05,330.1 A2.3,2.3 0 0 0 538.65,330.1 L540.95,315 L550,315 L552.3,325.9 A2.3,2.3 0 0 0 556.9,325.9 L559.2,315 L568.25,315 L570.55,330.1 A2.3,2.3 0 0 0 575.15,330.1 L577.45,315 L586.5,315 L588.8,325.9 A2.3,2.3 0 0 0 593.4,325.9 L595.7,315 L601,315 L604.8,331 L628.4,331 L629.8,344.8 L655.4,344.8 L655.4,329 L690.8,329 L692.4,321.1 L699.8,321.1 L701.6,323.6 A1.8,1.8 0 0 0 705,323.4 L706.6,316 L713.7,316 L717.5,328.8 L721.3,328.8 L723.4,315.4 L730.6,315.4 L732.9,322 A2.1,2.1 0 0 0 737.1,322 L739.4,315.4 L746.9,315.4 L749.3,328.8 L753.3,328.8 L755.7,315.4 L762.4,315.4 L764.7,322 A2.1,2.1 0 0 0 768.9,322 L771.2,315.4 L778.4,315.4 L780.8,328.8 L784.8,328.8 L787.2,315.4 L793.8,315.4 L796.1,322 A2.1,2.1 0 0 0 800.3,322 L802.6,315.4 L808.9,315.4 L811.3,328.8 L815.3,328.8 L817.7,315.4 L826,315.4 L828.3,322 A2.1,2.1 0 0 0 832.5,322 L834.8,315.4 L842.3,315.4 L845.3,328.8 L861.8,328.8 L861.8,306.1 L413,306.1 Z"/><path d="M425,288 L779.8,288 L779.8,295.5 L425,295.5 Z"/><path d="M437,269.8 L752.3,269.8 L752.3,277.2 L437,277.2 Z"/><path d="M525.8,219.5 L547.9,219.5 L547.9,306.1 L525.8,306.1 Z"/></clipPath>
<path clip-path="url(#cB)" d="M304.64,219 L435.64,350 M322.47,219 L453.47,350 M340.3,219 L471.3,350 M358.13,219 L489.13,350 M375.96,219 L506.96,350 M393.79,219 L524.79,350 M411.62,219 L542.62,350 M429.45,219 L560.45,350 M447.28,219 L578.28,350 M465.11,219 L596.11,350 M482.94,219 L613.94,350 M500.77,219 L631.77,350 M518.6,219 L649.6,350 M536.43,219 L667.43,350 M554.26,219 L685.26,350 M572.09,219 L703.09,350 M589.92,219 L720.92,350 M607.75,219 L738.75,350 M625.58,219 L756.58,350 M643.41,219 L774.41,350 M661.24,219 L792.24,350 M679.07,219 L810.07,350 M696.9,219 L827.9,350 M714.73,219 L845.73,350 M732.56,219 L863.56,350 M750.39,219 L881.39,350 M768.22,219 L899.22,350 M786.05,219 L917.05,350 " stroke="#1c1c1c" stroke-width="1.6" fill="none"/>
<g fill="#fff" stroke="none"><path d="M430,113.9 L520.4,113.9 A5.3,5.3 0 0 1 520.4,124.5 L430,124.5 Z"/><path d="M430,295.5 L520.4,295.5 A5.3,5.3 0 0 1 520.4,306.1 L430,306.1 Z"/><path d="M700,113.9 L554.3,113.9 A5.3,5.3 0 0 0 554.3,124.5 L700,124.5 Z"/><path d="M700,295.5 L554.3,295.5 A5.3,5.3 0 0 0 554.3,306.1 L700,306.1 Z"/><path d="M430,132 L519.8,132 A5.4,5.4 0 0 1 519.8,142.8 L430,142.8 Z"/><path d="M430,277.2 L519.8,277.2 A5.4,5.4 0 0 1 519.8,288 L430,288 Z"/><path d="M700,132 L554.4,132 A5.4,5.4 0 0 0 554.4,142.8 L700,142.8 Z"/><path d="M700,277.2 L554.4,277.2 A5.4,5.4 0 0 0 554.4,288 L700,288 Z"/></g>
<path d="M413,91 L427,91 L430.3,105 L440.5,105 L442.8,94.1 A2.3,2.3 0 0 1 447.4,94.1 L449.7,105 L458.75,105 L461.05,89.9 A2.3,2.3 0 0 1 465.65,89.9 L467.95,105 L477,105 L479.3,94.1 A2.3,2.3 0 0 1 483.9,94.1 L486.2,105 L495.25,105 L497.55,89.9 A2.3,2.3 0 0 1 502.15,89.9 L504.45,105 L513.5,105 L515.8,94.1 A2.3,2.3 0 0 1 520.4,94.1 L522.7,105 L531.75,105 L534.05,89.9 A2.3,2.3 0 0 1 538.65,89.9 L540.95,105 L550,105 L552.3,94.1 A2.3,2.3 0 0 1 556.9,94.1 L559.2,105 L568.25,105 L570.55,89.9 A2.3,2.3 0 0 1 575.15,89.9 L577.45,105 L586.5,105 L588.8,94.1 A2.3,2.3 0 0 1 593.4,94.1 L595.7,105 L601,105 L604.8,89 L628.4,89 L629.8,75.2 L655.4,75.2 L655.4,91 L690.8,91 L692.4,98.9 L699.8,98.9 L701.6,96.4 A1.8,1.8 0 0 1 705,96.6 L706.6,104 L713.7,104 L717.5,91.2 L721.3,91.2 L723.4,104.6 L730.6,104.6 L732.9,98 A2.1,2.1 0 0 1 737.1,98 L739.4,104.6 L746.9,104.6 L749.3,91.2 L753.3,91.2 L755.7,104.6 L762.4,104.6 L764.7,98 A2.1,2.1 0 0 1 768.9,98 L771.2,104.6 L778.4,104.6 L780.8,91.2 L784.8,91.2 L787.2,104.6 L793.8,104.6 L796.1,98 A2.1,2.1 0 0 1 800.3,98 L802.6,104.6 L808.9,104.6 L811.3,91.2 L815.3,91.2 L817.7,104.6 L826,104.6 L828.3,98 A2.1,2.1 0 0 1 832.5,98 L834.8,104.6 L842.3,104.6 L845.3,91.2 L861.8,91.2" fill="none" stroke="#1c1c1c" stroke-width="1.8" />
<path d="M413,329 L427,329 L430.3,315 L440.5,315 L442.8,325.9 A2.3,2.3 0 0 0 447.4,325.9 L449.7,315 L458.75,315 L461.05,330.1 A2.3,2.3 0 0 0 465.65,330.1 L467.95,315 L477,315 L479.3,325.9 A2.3,2.3 0 0 0 483.9,325.9 L486.2,315 L495.25,315 L497.55,330.1 A2.3,2.3 0 0 0 502.15,330.1 L504.45,315 L513.5,315 L515.8,325.9 A2.3,2.3 0 0 0 520.4,325.9 L522.7,315 L531.75,315 L534.05,330.1 A2.3,2.3 0 0 0 538.65,330.1 L540.95,315 L550,315 L552.3,325.9 A2.3,2.3 0 0 0 556.9,325.9 L559.2,315 L568.25,315 L570.55,330.1 A2.3,2.3 0 0 0 575.15,330.1 L577.45,315 L586.5,315 L588.8,325.9 A2.3,2.3 0 0 0 593.4,325.9 L595.7,315 L601,315 L604.8,331 L628.4,331 L629.8,344.8 L655.4,344.8 L655.4,329 L690.8,329 L692.4,321.1 L699.8,321.1 L701.6,323.6 A1.8,1.8 0 0 0 705,323.4 L706.6,316 L713.7,316 L717.5,328.8 L721.3,328.8 L723.4,315.4 L730.6,315.4 L732.9,322 A2.1,2.1 0 0 0 737.1,322 L739.4,315.4 L746.9,315.4 L749.3,328.8 L753.3,328.8 L755.7,315.4 L762.4,315.4 L764.7,322 A2.1,2.1 0 0 0 768.9,322 L771.2,315.4 L778.4,315.4 L780.8,328.8 L784.8,328.8 L787.2,315.4 L793.8,315.4 L796.1,322 A2.1,2.1 0 0 0 800.3,322 L802.6,315.4 L808.9,315.4 L811.3,328.8 L815.3,328.8 L817.7,315.4 L826,315.4 L828.3,322 A2.1,2.1 0 0 0 832.5,322 L834.8,315.4 L842.3,315.4 L845.3,328.8 L861.8,328.8" fill="none" stroke="#1c1c1c" stroke-width="1.8" />
<line x1="861.8" y1="91.2" x2="861.8" y2="328.8" stroke="#1c1c1c" stroke-width="1.8" />
<line x1="717.5" y1="91.2" x2="888.3" y2="91.2" stroke="#1c1c1c" stroke-width="1.8" />
<line x1="717.5" y1="328.8" x2="888.3" y2="328.8" stroke="#1c1c1c" stroke-width="1.8" />
<line x1="413.2" y1="91" x2="413.2" y2="409" stroke="#1c1c1c" stroke-width="1.8" />
<line x1="861.8" y1="328.8" x2="861.8" y2="409" stroke="#1c1c1c" stroke-width="1.8" />
<line x1="386.1" y1="91" x2="413" y2="91" stroke="#1c1c1c" stroke-width="1.8" />
<line x1="386.1" y1="329" x2="413" y2="329" stroke="#1c1c1c" stroke-width="1.8" />
<line x1="413.2" y1="113.9" x2="417.6" y2="113.9" stroke="#1c1c1c" stroke-width="1.8" />
<line x1="413.2" y1="306.1" x2="417.6" y2="306.1" stroke="#1c1c1c" stroke-width="1.8" />
<line x1="858.75" y1="113.9" x2="861.8" y2="113.9" stroke="#1c1c1c" stroke-width="1.8" />
<line x1="858.75" y1="306.1" x2="861.8" y2="306.1" stroke="#1c1c1c" stroke-width="1.8" />
<path d="M417.6,210 L417.6,113.9 L520.4,113.9 A5.3,5.3 0 0 1 520.4,124.5 L428,124.5 A3,3 0 0 0 425,127.5 L425,210" fill="none" stroke="#1c1c1c" stroke-width="1.8" />
<path d="M428.3,210 L428.3,132 L519.8,132 A5.4,5.4 0 0 1 519.8,142.8 L440,142.8 A3,3 0 0 0 437,145.8 L437,210" fill="none" stroke="#1c1c1c" stroke-width="1.8" />
<path d="M440.5,210 L440.5,152.2 A2,2 0 0 1 442.5,150.2 L519.6,150.2 A2,2 0 0 1 521.6,152.2 L521.6,210" fill="none" stroke="#1c1c1c" stroke-width="1.8" />
<line x1="525.8" y1="150.2" x2="525.8" y2="210" stroke="#1c1c1c" stroke-width="1.8" />
<path d="M858.75,210 L858.75,113.9 L554.3,113.9 A5.3,5.3 0 0 0 554.3,124.5 L776.8,124.5 A3,3 0 0 1 779.8,127.5 L779.8,210" fill="none" stroke="#1c1c1c" stroke-width="1.8" />
<path d="M776.5,210 L776.5,132 L554.4,132 A5.4,5.4 0 0 0 554.4,142.8 L749.3,142.8 A3,3 0 0 1 752.3,145.8 L752.3,210" fill="none" stroke="#1c1c1c" stroke-width="1.8" />
<path d="M552.3,210 L552.3,152.2 A2,2 0 0 1 554.3,150.2 L747.3,150.2 A2,2 0 0 1 749.3,152.2 L749.3,210" fill="none" stroke="#1c1c1c" stroke-width="1.8" />
<line x1="547.9" y1="150.2" x2="547.9" y2="210" stroke="#1c1c1c" stroke-width="1.8" />
<line x1="553.3" y1="114.9" x2="553.3" y2="124" stroke="#1c1c1c" stroke-width="1.8" />
<path d="M417.6,210 L417.6,306.1 L520.4,306.1 A5.3,5.3 0 0 0 520.4,295.5 L428,295.5 A3,3 0 0 1 425,292.5 L425,210" fill="none" stroke="#1c1c1c" stroke-width="1.8" />
<path d="M428.3,210 L428.3,288 L519.8,288 A5.4,5.4 0 0 0 519.8,277.2 L440,277.2 A3,3 0 0 1 437,274.2 L437,210" fill="none" stroke="#1c1c1c" stroke-width="1.8" />
<path d="M440.5,210 L440.5,267.8 A2,2 0 0 0 442.5,269.8 L519.6,269.8 A2,2 0 0 0 521.6,267.8 L521.6,210" fill="none" stroke="#1c1c1c" stroke-width="1.8" />
<line x1="525.8" y1="269.8" x2="525.8" y2="210" stroke="#1c1c1c" stroke-width="1.8" />
<path d="M858.75,210 L858.75,306.1 L554.3,306.1 A5.3,5.3 0 0 1 554.3,295.5 L776.8,295.5 A3,3 0 0 0 779.8,292.5 L779.8,210" fill="none" stroke="#1c1c1c" stroke-width="1.8" />
<path d="M776.5,210 L776.5,288 L554.4,288 A5.4,5.4 0 0 1 554.4,277.2 L749.3,277.2 A3,3 0 0 0 752.3,274.2 L752.3,210" fill="none" stroke="#1c1c1c" stroke-width="1.8" />
<path d="M552.3,210 L552.3,267.8 A2,2 0 0 0 554.3,269.8 L747.3,269.8 A2,2 0 0 0 749.3,267.8 L749.3,210" fill="none" stroke="#1c1c1c" stroke-width="1.8" />
<line x1="547.9" y1="269.8" x2="547.9" y2="210" stroke="#1c1c1c" stroke-width="1.8" />
<line x1="553.3" y1="305.1" x2="553.3" y2="296" stroke="#1c1c1c" stroke-width="1.8" />
<line x1="525.8" y1="199.9" x2="547.9" y2="199.9" stroke="#1c1c1c" stroke-width="1.8" />
<line x1="525.8" y1="219.5" x2="547.9" y2="219.5" stroke="#1c1c1c" stroke-width="1.8" />
<rect x="525.8" y="245" width="12.4" height="5" fill="#fff" stroke="#1c1c1c" stroke-width="1.2"/>
<line x1="379" y1="255.6" x2="521" y2="255.6" stroke="#1c1c1c" stroke-width="4.2"/>
<line x1="384" y1="255.6" x2="519" y2="255.6" stroke="#a0a0a0" stroke-width="1" stroke-dasharray="3.2 3"/>
<circle cx="378.6" cy="255.2" r="2.6" fill="#1c1c1c"/>
<line x1="379" y1="257" x2="379.7" y2="266" stroke="#1c1c1c" stroke-width="1.6" />
<line x1="382" y1="242" x2="396.5" y2="242" stroke="#1c1c1c" stroke-width="1.3" />
<line x1="382" y1="242" x2="378.6" y2="254" stroke="#8a8a8a" stroke-width="1.3" />
<text x="397" y="239.6" font-size="18" text-anchor="middle" fill="#1c1c1c" ><tspan fill="#8a8a8a" stroke="#8a8a8a">Φ</tspan>6</text>
<line x1="392.8" y1="209.8" x2="450" y2="209.8" stroke="#1c1c1c" stroke-width="1.2" />
<line x1="459.4" y1="209.8" x2="470" y2="209.8" stroke="#1c1c1c" stroke-width="1.2" />
<line x1="479.5" y1="209.8" x2="530" y2="209.8" stroke="#1c1c1c" stroke-width="1.2" />
<line x1="540" y1="209.8" x2="551" y2="209.8" stroke="#1c1c1c" stroke-width="1.2" />
<line x1="560.7" y1="209.8" x2="611" y2="209.8" stroke="#1c1c1c" stroke-width="1.2" />
<line x1="620.3" y1="209.8" x2="631.6" y2="209.8" stroke="#1c1c1c" stroke-width="1.2" />
<line x1="640.7" y1="209.8" x2="692.7" y2="209.8" stroke="#1c1c1c" stroke-width="1.2" />
<line x1="700.7" y1="209.8" x2="711.3" y2="209.8" stroke="#1c1c1c" stroke-width="1.2" />
<line x1="720.7" y1="209.8" x2="772" y2="209.8" stroke="#1c1c1c" stroke-width="1.2" />
<line x1="782" y1="209.8" x2="792.7" y2="209.8" stroke="#1c1c1c" stroke-width="1.2" />
<line x1="802" y1="209.8" x2="859.3" y2="209.8" stroke="#1c1c1c" stroke-width="1.2" />
<line x1="387" y1="91" x2="387" y2="329" stroke="#1c1c1c" stroke-width="1.5" />
<path d="M387,91 L388.8,98 L385.2,98 Z" fill="#1c1c1c"/>
<path d="M387,329 L385.2,322 L388.8,322 Z" fill="#1c1c1c"/>
<text x="384" y="210.2" font-size="19.2" text-anchor="middle" fill="#1c1c1c" transform="rotate(-90 384 210.2)" >299</text>
<line x1="887.4" y1="91.2" x2="887.4" y2="328.8" stroke="#1c1c1c" stroke-width="1.5" />
<path d="M887.4,91.2 L889.2,98.2 L885.6,98.2 Z" fill="#1c1c1c"/>
<path d="M887.4,328.8 L885.6,321.8 L889.2,321.8 Z" fill="#1c1c1c"/>
<text x="886.7" y="210.3" font-size="19.2" text-anchor="middle" fill="#1c1c1c" transform="rotate(-90 886.7 210.3)" >299</text>
<line x1="433" y1="190.8" x2="530.5" y2="190.8" stroke="#1c1c1c" stroke-width="1.5" />
<path d="M437,190.8 L444,189 L444,192.6 Z" fill="#1c1c1c"/>
<text x="481.5" y="187.3" font-size="19.2" text-anchor="middle" fill="#1c1c1c" >112</text>
<line x1="545.3" y1="190.1" x2="758" y2="190.1" stroke="#1c1c1c" stroke-width="1.5" />
<path d="M547.9,190.1 L554.9,188.3 L554.9,191.9 Z" fill="#1c1c1c"/>
<path d="M752.3,190.1 L745.3,191.9 L745.3,188.3 Z" fill="#1c1c1c"/>
<text x="650" y="187.2" font-size="19.2" text-anchor="middle" fill="#1c1c1c" >257</text>
<line x1="584.6" y1="150.5" x2="584.6" y2="269.5" stroke="#1c1c1c" stroke-width="1.5" />
<path d="M584.6,150.5 L586.4,157.5 L582.8,157.5 Z" fill="#1c1c1c"/>
<path d="M584.6,269.5 L582.8,262.5 L586.4,262.5 Z" fill="#1c1c1c"/>
<text x="580.6" y="209.4" font-size="19.2" text-anchor="middle" fill="#1c1c1c" transform="rotate(-90 580.6 209.4)" >147</text>
<line x1="630.5" y1="331" x2="630.5" y2="382" stroke="#1c1c1c" stroke-width="1.5" />
<line x1="655.2" y1="344.8" x2="655.2" y2="382" stroke="#1c1c1c" stroke-width="1.5" />
<line x1="410" y1="378.9" x2="631" y2="378.9" stroke="#1c1c1c" stroke-width="1.5" />
<path d="M413,378.9 L420,377.1 L420,380.7 Z" fill="#1c1c1c"/>
<path d="M630.5,378.9 L623.5,380.7 L623.5,377.1 Z" fill="#1c1c1c"/>
<line x1="631" y1="378.9" x2="659.5" y2="378.9" stroke="#1c1c1c" stroke-width="1.5" />
<path d="M655.2,378.9 L648.2,380.7 L648.2,377.1 Z" fill="#1c1c1c"/>
<text x="521.5" y="374.8" font-size="19.2" text-anchor="middle" fill="#1c1c1c" >274</text>
<text x="643" y="374.3" font-size="19.2" text-anchor="middle" fill="#1c1c1c" >31</text>
<line x1="413.2" y1="406.5" x2="863" y2="406.5" stroke="#1c1c1c" stroke-width="1.5" />
<path d="M413,406.5 L420,404.7 L420,408.3 Z" fill="#1c1c1c"/>
<path d="M861.8,406.5 L854.8,408.3 L854.8,404.7 Z" fill="#1c1c1c"/>
<text x="637.5" y="404.3" font-size="19.2" text-anchor="middle" fill="#1c1c1c" >565</text>
<rect x="384.6" y="196.5" width="4.8" height="44" fill="#fff" fill-opacity="0.6"/>
<rect x="384.6" y="140.5" width="4.8" height="9" fill="#fff" fill-opacity="0.6"/>
<rect x="384.6" y="285" width="4.8" height="6" fill="#fff" fill-opacity="0.4"/>
<path d="M411,173 L443,150 L443,166 L411,189 Z" fill="#fff" fill-opacity="0.5"/>
<path d="M411,198 L443,180 L443,193 L411,211 Z" fill="#fff" fill-opacity="0.5"/>
<path d="M411,130.5 L430,130.5 L430,136.5 L411,136.5 Z" fill="#fff" fill-opacity="0.45"/>
</svg>
</body></html>
